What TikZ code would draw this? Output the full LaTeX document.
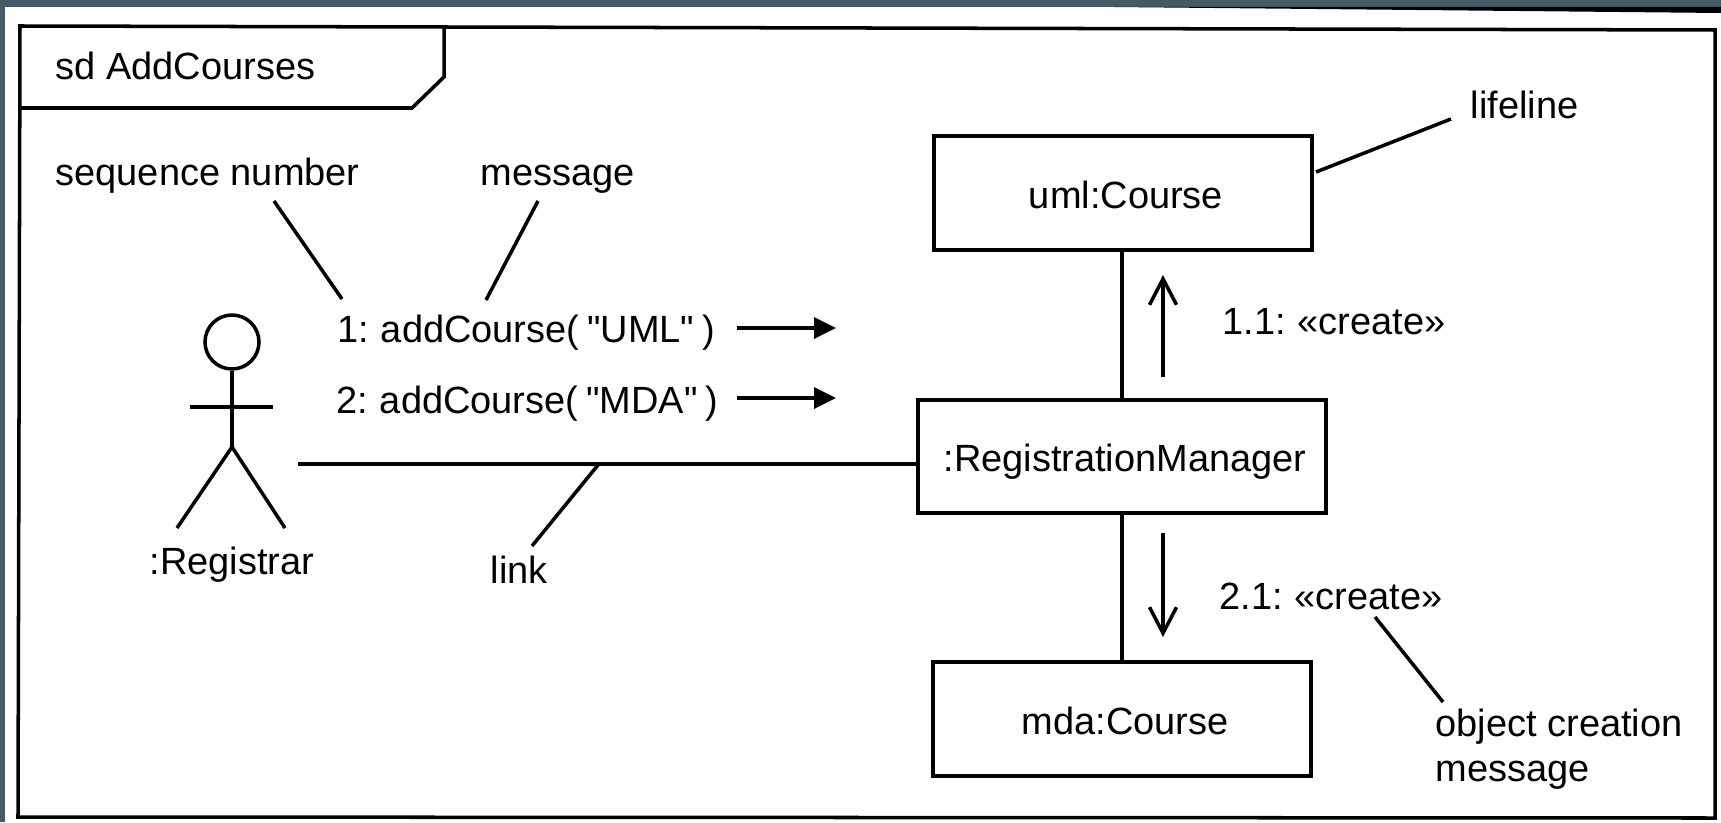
\documentclass[tikz,border=0pt]{standalone}
\usepackage{fontspec}
\setmainfont{Liberation Sans}[Ligatures=TeXOff]
\usetikzlibrary{arrows.meta,backgrounds}
\pgfdeclarelayer{edgelayer}
\pgfdeclarelayer{nodelayer}
\pgfsetlayers{edgelayer,nodelayer,main}
\definecolor{slate}{HTML}{455A64}
\tikzstyle{every node}=[font=\fontsize{10.8pt}{13pt}\selectfont]
\tikzstyle{object}=[rectangle, draw=black, line width=1.000, inner sep=0pt, text height=8.8pt, text depth=0pt, execute at begin node={\hspace*{1.7pt}}]
\tikzstyle{label}=[inner sep=0pt, anchor=base west, align=left]
\tikzstyle{tightlabel}=[style=label, execute at begin node={\spaceskip=2.3pt\relax}]
\tikzstyle{line}=[-, draw=black, line width=1.000]
\tikzstyle{arrow}=[-{Triangle[length=2.2mm,width=2.1mm]}, draw=black, line width=1.000]
\tikzstyle{createarrow}=[-{Straight Barb[length=2.6mm,width=2.7mm]}, draw=black, line width=1.000]

\begin{document}
\begin{tikzpicture}
            \useasboundingbox (0, 0) rectangle (17.21, 8.22);
            \begin{pgfonlayer}{nodelayer}
                \node [style=object, minimum width=3.78cm, minimum height=1.14cm] (uml) at (11.23, 6.29) {uml:Course};
                \node [style=object, minimum width=4.08cm, minimum height=1.13cm] (manager) at (11.22, 3.655) {:RegistrationManager};
                \node [style=object, minimum width=3.78cm, minimum height=1.14cm] (mda) at (11.22, 1.03) {mda:Course};

                \node [style=object, circle, minimum size=0.54cm] (head) at (2.32, 4.80) {};
                \coordinate (hip) at (2.32, 3.75);
                \coordinate (armL) at (1.90, 4.15);
                \coordinate (armR) at (2.73, 4.15);
                \coordinate (footL) at (1.77, 2.94);
                \coordinate (footR) at (2.85, 2.94);
                \node [style=label, anchor=base] (registrar) at (2.32, 2.48) {:Registrar};

                \node [style=label] (frame) at (0.55, 7.42) {sd AddCourses};
                \node [style=label] (seqlabel) at (0.55, 6.36) {sequence number};
                \node [style=label] (msglabel) at (4.80, 6.36) {message};
                \node [style=label] (lifelabel) at (14.70, 7.04) {lifeline};
                \node [style=label] (linklabel) at (4.90, 2.39) {link};
                \node [style=tightlabel] (msgA) at (3.37, 4.80) {1: addCourse( "UML" )};
                \node [style=tightlabel] (msgB) at (3.36, 4.09) {2: addCourse( "MDA" )};
                \node [style=tightlabel] (createA) at (12.22, 4.88) {1.1: «create»};
                \node [style=tightlabel] (createB) at (12.19, 2.13) {2.1: «create»};
                \node [style=label] (objlabel) at (14.35, 0.86) {object creation};
                \node [style=label] (objlabelB) at (14.35, 0.41) {message};

                \coordinate (frameNW) at (0.20, 7.96);
                \coordinate (frameNE) at (17.15, 7.92);
                \coordinate (frameSE) at (17.15, 0.04);
                \coordinate (frameSW) at (0.18, 0.05);
                \coordinate (tabT) at (4.44, 7.95);
                \coordinate (tabR) at (4.44, 7.45);
                \coordinate (tabD) at (4.12, 7.14);
                \coordinate (tabL) at (0.20, 7.14);
                \coordinate (linkA) at (2.98, 3.58);
                \coordinate (linkOn) at (5.98, 3.57);
                \coordinate (linkEnd) at (5.32, 2.76);
                \coordinate (seqA) at (2.74, 6.21);
                \coordinate (seqB) at (3.42, 5.23);
                \coordinate (msgEndA) at (5.38, 6.21);
                \coordinate (msgEndB) at (4.86, 5.22);
                \coordinate (lifeA) at (14.51, 7.03);
                \coordinate (lifeB) at (13.16, 6.50);
                \coordinate (objA) at (13.75, 2.05);
                \coordinate (objB) at (14.43, 1.20);
                \coordinate (arrowA) at (7.37, 4.94);
                \coordinate (arrowAend) at (8.36, 4.94);
                \coordinate (arrowB) at (7.37, 4.24);
                \coordinate (arrowBend) at (8.36, 4.24);
                \coordinate (upA) at (11.63, 4.45);
                \coordinate (upB) at (11.63, 5.47);
                \coordinate (downA) at (11.63, 2.89);
                \coordinate (downB) at (11.63, 1.85);
            \end{pgfonlayer}
            \begin{pgfonlayer}{edgelayer}
                \fill [slate] (0, 0) rectangle (17.21, 8.22);
                \fill [white] (0.05, 0) rectangle (17.21, 8.15);
                \fill [black] (11.13, 8.15) -- (17.21, 8.15) -- (17.21, 8.09) -- cycle;
                \draw [style=line] (frameNW) -- (frameNE) -- (frameSE) -- (frameSW) -- cycle;
                \draw [style=line] (tabT) -- (tabR) -- (tabD) -- (tabL);

                \draw [style=line] (uml.south -| manager) -- (manager.north);
                \draw [style=line] (manager.south) -- (mda.north);
                \draw [style=line] (linkA) -- (linkA -| manager.west);

                \draw [style=line] (head.south) -- (hip);
                \draw [style=line] (armL) -- (armR);
                \draw [style=line] (footL) -- (hip) -- (footR);

                \draw [style=line] (seqA) -- (seqB);
                \draw [style=line] (msgEndA) -- (msgEndB);
                \draw [style=line] (lifeA) -- (lifeB);
                \draw [style=line] (linkOn) -- (linkEnd);
                \draw [style=line] (objA) -- (objB);

                \draw [style=arrow] (arrowA) to (arrowAend);
                \draw [style=arrow] (arrowB) to (arrowBend);
                \draw [style=createarrow] (upA) to (upB);
                \draw [style=createarrow] (downA) to (downB);
            \end{pgfonlayer}
        \end{tikzpicture}
\end{document}
